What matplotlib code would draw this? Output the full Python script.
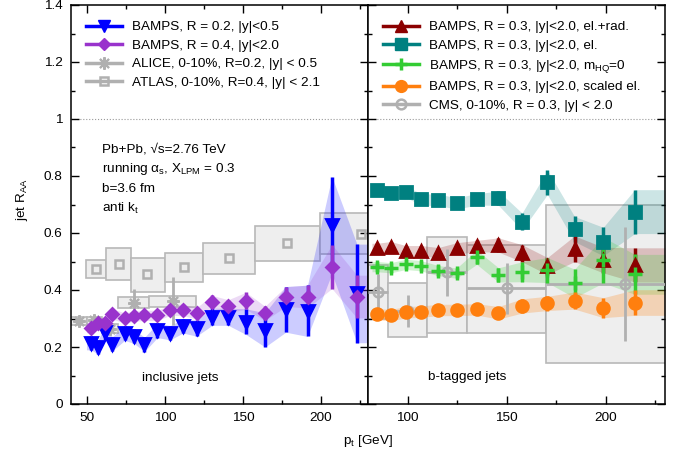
import numpy as np
import matplotlib
matplotlib.use("Agg")
import matplotlib.pyplot as plt
from matplotlib.lines import Line2D
from matplotlib.ticker import MultipleLocator, AutoMinorLocator, FuncFormatter

plt.rcParams['font.family'] = ['Liberation Sans', 'DejaVu Sans']
plt.rcParams['mathtext.fontset'] = 'custom'
plt.rcParams['mathtext.rm'] = 'Liberation Sans'
plt.rcParams['mathtext.default'] = 'regular'
fs = 9.7

# ---- inclusive jets (left panel) ----
pt_incl = [52.6, 57.4, 61.9, 66.4, 74.3, 80.2, 87.0, 95.3, 103.4, 111.7, 120.3,
           130.3, 140.6, 151.9, 164.1, 177.4, 191.3, 206.9, 222.9]
r02_y = [0.215, 0.200, 0.251, 0.211, 0.248, 0.238, 0.209, 0.258, 0.250, 0.274, 0.266,
         0.306, 0.306, 0.289, 0.260, 0.332, 0.327, 0.628, 0.388]
r02_err = [0.025, 0.025, 0.025, 0.025, 0.025, 0.025, 0.025, 0.025, 0.025, 0.025, 0.028,
           0.03, 0.03, 0.045, 0.06, 0.08, 0.09, 0.17, 0.173]
r04_y = [0.268, 0.283, 0.285, 0.316, 0.302, 0.308, 0.311, 0.311, 0.329, 0.330, 0.318,
         0.359, 0.344, 0.362, 0.318, 0.377, 0.377, 0.482, 0.377]
r04_err = [0.018, 0.018, 0.018, 0.018, 0.018, 0.018, 0.018, 0.018, 0.018, 0.02, 0.02,
           0.022, 0.022, 0.03, 0.025, 0.035, 0.04, 0.077, 0.075]

alice_x = [45, 55, 65, 80, 105]
alice_y = [0.291, 0.293, 0.263, 0.355, 0.362]
alice_err = [0.01, 0.01, 0.015, 0.05, 0.085]
alice_xlo = [40, 50, 60, 70, 90]
alice_xhi = [50, 60, 70, 90, 120]
alice_ylo = [0.277, 0.277, 0.248, 0.336, 0.341]
alice_yhi = [0.305, 0.305, 0.280, 0.374, 0.380]

atlas_x = [56.0, 70.5, 88.7, 112.2, 141.2, 178.4, 225.6]
atlas_y = [0.473, 0.492, 0.455, 0.480, 0.511, 0.566, 0.597]
atlas_xlo = [49.4, 62.5, 78.5, 100, 124.6, 157.7, 199]
atlas_xhi = [62.5, 78.5, 100, 124.6, 157.7, 199, 251]
atlas_ylo = [0.442, 0.435, 0.394, 0.429, 0.456, 0.503, 0.526]
atlas_yhi = [0.504, 0.546, 0.511, 0.529, 0.564, 0.625, 0.671]

# ---- b-tagged jets (right panel) ----
pt_b = [84.7, 91.5, 99.1, 106.8, 115.5, 124.8, 134.9, 145.9, 157.8, 170.6, 184.3, 198.8, 214.7]
rad_y = [0.546, 0.552, 0.538, 0.538, 0.531, 0.546, 0.554, 0.558, 0.529, 0.484, 0.545, 0.505, 0.488]
rad_err = [0.018, 0.018, 0.018, 0.018, 0.018, 0.02, 0.02, 0.025, 0.03, 0.03, 0.045, 0.045, 0.06]
el_y = [0.751, 0.739, 0.745, 0.718, 0.716, 0.704, 0.718, 0.722, 0.640, 0.778, 0.614, 0.570, 0.675]
el_err = [0.02, 0.02, 0.02, 0.02, 0.02, 0.02, 0.02, 0.025, 0.03, 0.043, 0.044, 0.05, 0.077]
m0_y = [0.482, 0.478, 0.490, 0.485, 0.468, 0.459, 0.515, 0.453, 0.464, 0.470, 0.423, 0.505, 0.455]
m0_err = [0.018, 0.018, 0.018, 0.018, 0.018, 0.018, 0.025, 0.025, 0.035, 0.044, 0.05, 0.08, 0.07]
sc_y = [0.315, 0.312, 0.322, 0.324, 0.330, 0.330, 0.332, 0.320, 0.344, 0.353, 0.363, 0.338, 0.356]
sc_err = [0.02, 0.02, 0.02, 0.02, 0.02, 0.02, 0.02, 0.022, 0.025, 0.025, 0.03, 0.035, 0.045]

cms_x = [85, 100, 120, 150, 210]
cms_y = [0.394, 0.327, 0.462, 0.406, 0.421]
cms_err = [0.062, 0.056, 0.083, 0.09, 0.2]
cms_xlo = [80, 90, 110, 130, 170]
cms_xhi = [90, 110, 130, 170, 250]
cms_ylo = [0.300, 0.236, 0.250, 0.250, 0.145]
cms_yhi = [0.488, 0.423, 0.587, 0.558, 0.698]

c_blue, c_purp = '#0000ff', '#9933cc'
c_red, c_teal, c_green, c_orange = '#8b0000', '#008080', '#33cc33', '#ff7f0e'
c_gray = '#b0b0b0'
box_face, box_edge = '#eeeeee', '#b8b8b8'

fig = plt.figure(figsize=(6.83, 4.53), dpi=100)
ax1 = fig.add_axes([71/683, 49/453, 297/683, 399/453])
ax2 = fig.add_axes([368/683, 49/453, 297/683, 399/453])


def boxes(ax, xlo, xhi, ylo, yhi):
    xlo, xhi, ylo, yhi = map(np.array, (xlo, xhi, ylo, yhi))
    ax.bar(xlo, yhi - ylo, width=xhi - xlo, bottom=ylo, align='edge',
           color=box_face, edgecolor=box_edge, lw=1.2, zorder=1)


def series(ax, x, y, err, color, marker, ms, alpha, xmax=230, mew=2):
    x, y, err = np.array(x), np.array(y), np.array(err)
    xb = np.r_[x[0] - 2.7, x, xmax]
    lo = np.r_[y[0] - err[0], y - err, y[-1] - err[-1]]
    hi = np.r_[y[0] + err[0], y + err, y[-1] + err[-1]]
    ax.fill_between(xb, lo, hi, color=color, alpha=alpha, lw=0, zorder=2)
    ax.errorbar(x, y, yerr=err, fmt='none', ecolor=color, elinewidth=2.5,
                capsize=0, zorder=4)
    ax.plot(x, y, ls='none', marker=marker, color=color, ms=ms, mew=mew, zorder=5)


# left panel
boxes(ax1, atlas_xlo, atlas_xhi, atlas_ylo, atlas_yhi)
boxes(ax1, alice_xlo, alice_xhi, alice_ylo, alice_yhi)
ax1.plot(atlas_x, atlas_y, ls='none', marker='s', color=c_gray, mfc='none',
         ms=6, mew=1.8, zorder=3)
ax1.errorbar(alice_x, alice_y, yerr=alice_err, fmt='none', ecolor=c_gray,
             elinewidth=2, capsize=0, zorder=3)
ax1.plot(alice_x, alice_y, ls='none', marker=(8, 2, 0), color=c_gray, ms=9,
         mew=1.5, zorder=3)
series(ax1, pt_incl, r02_y, r02_err, c_blue, 'v', 8.5, 0.2)
series(ax1, pt_incl, r04_y, r04_err, c_purp, 'D', 6.5, 0.18)

# right panel
boxes(ax2, cms_xlo, cms_xhi, cms_ylo, cms_yhi)
cx = np.array(cms_x)
ax2.errorbar(cms_x, cms_y, yerr=cms_err,
             xerr=[cx - np.array(cms_xlo), np.array(cms_xhi) - cx],
             fmt='o', color=c_gray, mfc='none', ms=7, mew=1.8, elinewidth=2,
             capsize=0, zorder=3)
series(ax2, pt_b, el_y, el_err, c_teal, 's', 8, 0.2)
series(ax2, pt_b, rad_y, rad_err, c_red, '^', 8.5, 0.2)
series(ax2, pt_b, m0_y, m0_err, c_green, '+', 10, 0.22, mew=2.5)
series(ax2, pt_b, sc_y, sc_err, c_orange, 'o', 8.5, 0.25)

for ax in (ax1, ax2):
    ax.axhline(1, color='#999999', ls=':', lw=0.8, zorder=0)
    ax.set_xlim(40 if ax is ax1 else 80, 230)
    ax.set_ylim(0, 1.4)
    ax.xaxis.set_major_locator(MultipleLocator(50))
    ax.xaxis.set_minor_locator(AutoMinorLocator(2))
    ax.yaxis.set_major_locator(MultipleLocator(0.2))
    ax.yaxis.set_minor_locator(AutoMinorLocator(2))
    ax.tick_params(which='both', direction='in', top=True, right=True,
                   labelsize=fs, width=1)
    ax.tick_params(which='major', length=6, pad=6)
    ax.tick_params(which='minor', length=3)
    for s in ax.spines.values():
        s.set_linewidth(1.1)
ax1.yaxis.set_major_formatter(FuncFormatter(lambda v, p: f'{v:g}'))
ax2.tick_params(labelleft=False)

# legends
h1 = [Line2D([], [], color=c_blue, marker='v', ms=8.5, lw=2.5),
      Line2D([], [], color=c_purp, marker='D', ms=6.5, lw=2.5),
      Line2D([], [], color=c_gray, marker=(8, 2, 0), ms=9, mew=1.5, lw=2.5),
      Line2D([], [], color=c_gray, marker='s', mfc='none', ms=6, mew=1.8, lw=2.5)]
l1 = ['BAMPS, R = 0.2, |y|<0.5', 'BAMPS, R = 0.4, |y|<2.0',
      'ALICE, 0-10%, R=0.2, |y| < 0.5', 'ATLAS, 0-10%, R=0.4, |y| < 2.1']
ax1.legend(h1, l1, loc='upper left', bbox_to_anchor=(0.05, 0.96), frameon=False,
           fontsize=fs, handlelength=2.7, handletextpad=0.7, labelspacing=0.45,
           borderpad=0, borderaxespad=0)

h2 = [Line2D([], [], color=c_red, marker='^', ms=8.5, lw=2.5),
      Line2D([], [], color=c_teal, marker='s', ms=8, lw=2.5),
      Line2D([], [], color=c_green, marker='+', ms=9, mew=2.5, lw=2.5),
      Line2D([], [], color=c_orange, marker='o', ms=8.5, lw=2.5),
      Line2D([], [], color=c_gray, marker='o', mfc='none', ms=7, mew=1.8, lw=2.5)]
l2 = ['BAMPS, R = 0.3, |y|<2.0, el.+rad.', 'BAMPS, R = 0.3, |y|<2.0, el.',
      'BAMPS, R = 0.3, |y|<2.0, m$_{HQ}$=0', 'BAMPS, R = 0.3, |y|<2.0, scaled el.',
      'CMS, 0-10%, R = 0.3, |y| < 2.0']
ax2.legend(h2, l2, loc='upper left', bbox_to_anchor=(0.05, 0.96), frameon=False,
           fontsize=fs, handlelength=2.7, handletextpad=0.7, labelspacing=0.45,
           borderpad=0, borderaxespad=0)

# annotations
info = ['Pb+Pb, \u221As=2.76 TeV', 'running \u03b1$_s$, X$_{LPM}$ = 0.3',
        'b=3.6 fm', 'anti k$_t$']
for i, t in enumerate(info):
    ax1.text(0.105, 0.638 - i * 0.049, t, transform=ax1.transAxes, fontsize=fs,
             va='center', ha='left')
ax1.text(0.367, 0.065, 'inclusive jets', transform=ax1.transAxes, fontsize=fs,
         ha='center', va='center')
ax2.text(0.335, 0.068, 'b-tagged jets', transform=ax2.transAxes, fontsize=fs,
         ha='center', va='center')

fig.text(368/683, 1 - 441/453, 'p$_t$ [GeV]', ha='center', va='center', fontsize=fs)
fig.text(22/683, 1 - 200/453, 'jet R$_{AA}$', ha='center', va='center',
         rotation=90, fontsize=fs)

fig.savefig('out.png', dpi=100)
